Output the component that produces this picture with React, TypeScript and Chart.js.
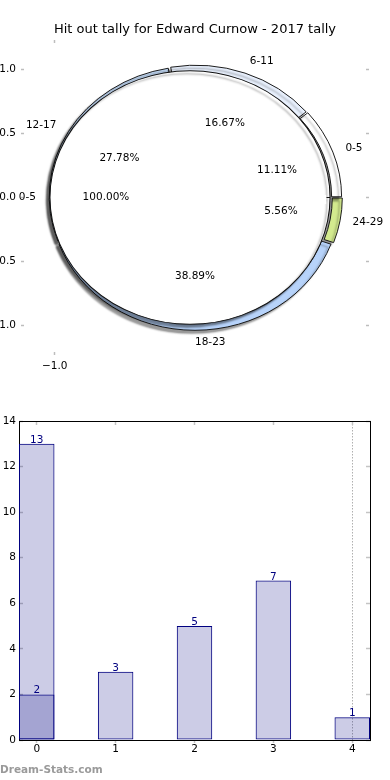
import React, { useEffect, useRef } from 'react';
import { Chart, registerables } from 'chart.js';

Chart.register(...registerables);

// ---------- data ----------
const TITLE = 'Hit out tally for Edward Curnow - 2017 tally';

const ringLabels = ['0-5', '6-11', '12-17', '18-23', '24-29'];
const ringValues = [2, 3, 5, 7, 1];
const ringColors = ['#ffffff', '#e8f0fd', '#c4dbf7', '#b7d3fa', '#d3ea8e'];

const innerLabels = ['0-5'];
const innerValues = [2];
const innerColors = ['#ffffff'];

const pieXTicks = [-1.0];
const pieYTicks = [1.0, 0.5, 0.0, -0.5, -1.0];

const barCategories = [0, 1, 2, 3, 4];
const barValues = [13, 3, 5, 7, 1];
const overlayCategories = [0];
const overlayValues = [2];
const barYTicks = [0, 2, 4, 6, 8, 10, 12, 14];
const markerCategory = 4;

const WATERMARK = 'Dream-Stats.com';

// ---------- style ----------
const FONT = "'DejaVu Sans', sans-serif";
const NAVY = '#000080';
const K = 0.905; // vertical squash of the pie (axes are not equal-aspect)
const INNER_SHIFT = -5;
const INNER_SCALE = 1.045;

Chart.defaults.font.family = FONT;
Chart.defaults.font.size = 10.5;
Chart.defaults.color = '#000';

const fmt1 = (v: number) => (v < 0 ? '\u2212' : '') + Math.abs(v).toFixed(1);

const pieTransform = {
  id: 'pieTransform',
  beforeDatasetDraw(chart: any, args: any) {
    const ctx = chart.ctx;
    ctx.save();
    const el = args.meta.data[0];
    if (!el) return;
    const inner = args.index === 1;
    const s = inner ? INNER_SCALE : 1;
    const cx = el.x + (inner ? INNER_SHIFT : 0);
    if (inner) {
      // hide the closing seam Chart.js strokes on a single 100% slice
      const R = el.outerRadius * s;
      ctx.beginPath();
      ctx.rect(0, 0, chart.width, chart.height);
      ctx.rect(cx - 6, el.y - 2.5, R + 6 - 3.5, 9);
      ctx.clip('evenodd');
    }
    ctx.translate(cx, el.y);
    ctx.scale(s, s * K);
    ctx.translate(-el.x, -el.y);
    ctx.shadowColor = 'rgba(0,0,0,0.4)';
    ctx.shadowOffsetX = -3;
    ctx.shadowOffsetY = 3;
    ctx.shadowBlur = 2;
  },
  afterDatasetDraw(chart: any) {
    chart.ctx.restore();
  },
};

const pieLabels = {
  id: 'pieLabels',
  afterDatasetsDraw(chart: any) {
    const ctx = chart.ctx;
    ctx.save();
    ctx.font = `10.5px ${FONT}`;
    ctx.fillStyle = '#000';
    ctx.textBaseline = 'middle';
    chart.data.datasets.forEach((ds: any, di: number) => {
      const meta = chart.getDatasetMeta(di);
      const inner = di === 1;
      const total = ds.data.reduce((a: number, b: number) => a + b, 0);
      meta.data.forEach((el: any, i: number) => {
        const cx = el.x + (inner ? INNER_SHIFT : 0);
        const cy = el.y;
        const R = inner ? el.outerRadius * INNER_SCALE : el.outerRadius + 1.5;
        const mid = (el.startAngle + el.endAngle) / 2;
        const c = Math.cos(mid);
        const s = Math.sin(mid);
        ctx.textAlign = c >= 0 ? 'left' : 'right';
        ctx.fillText(ds.sliceLabels[i], cx + c * 1.1 * R, cy + s * 1.1 * R * K);
        ctx.textAlign = 'center';
        const pct = ((ds.data[i] / total) * 100).toFixed(2) + '%';
        ctx.fillText(pct, cx + c * 0.6 * R, cy + s * 0.6 * R * K);
      });
    });
    ctx.restore();
  },
};

const barValueLabels = {
  id: 'barValueLabels',
  afterDatasetsDraw(chart: any) {
    const ctx = chart.ctx;
    ctx.save();
    ctx.font = `10.5px ${FONT}`;
    ctx.fillStyle = NAVY;
    ctx.textAlign = 'center';
    ctx.textBaseline = 'alphabetic';
    chart.data.datasets.forEach((ds: any, di: number) => {
      chart.getDatasetMeta(di).data.forEach((el: any, i: number) => {
        ctx.fillText(String(ds.data[i].y), el.x, el.y - 1);
      });
    });
    ctx.restore();
  },
};

function PieChart() {
  const ref = useRef<HTMLCanvasElement>(null);
  useEffect(() => {
    const cw = (a: any[]) => [...a].reverse(); // matplotlib goes counter-clockwise
    const tickGrid = { drawOnChartArea: false, drawTicks: true, tickLength: -3, tickColor: '#bdbdbd', tickWidth: 1.5 };
    const chart = new Chart(ref.current as HTMLCanvasElement, {
      type: 'doughnut',
      data: {
        labels: cw(ringLabels),
        datasets: [
          {
            data: cw(ringValues),
            backgroundColor: cw(ringColors),
            borderColor: '#111',
            borderWidth: 1,
            weight: 10,
            offset: 8,
            order: 1,
            sliceLabels: cw(ringLabels),
          } as any,
          {
            data: innerValues,
            backgroundColor: innerColors,
            borderColor: '#111',
            borderWidth: 1,
            weight: 134,
            order: 0,
            sliceLabels: innerLabels,
          } as any,
        ],
      },
      options: {
        responsive: false,
        animation: false,
        rotation: 90,
        cutout: 0,
        radius: 144,
        layout: { padding: 0, autoPadding: false },
        events: [],
        plugins: {
          legend: { display: false },
          tooltip: { enabled: false },
          title: {
            display: true,
            text: TITLE,
            color: '#000',
            font: { size: 13, weight: 'normal', family: FONT },
            padding: { top: 22, bottom: 0 },
          },
        },
        scales: {
          x: {
            type: 'linear', position: 'bottom', min: -1.24, max: 1.24,
            afterBuildTicks: (s: any) => { s.ticks = pieXTicks.map((v) => ({ value: v })); },
            afterFit: (s: any) => { s.height = 35; },
            ticks: { callback: (v: any) => fmt1(Number(v)), padding: 8, autoSkip: false, maxRotation: 0 },
            grid: tickGrid, border: { display: false },
          },
          xTop: {
            type: 'linear', position: 'top', min: -1.24, max: 1.24,
            afterBuildTicks: (s: any) => { s.ticks = pieXTicks.map((v) => ({ value: v })); },
            afterFit: (s: any) => { s.height = 2.4; },
            ticks: { display: false },
            grid: tickGrid, border: { display: false },
          },
          y: {
            type: 'linear', position: 'left', min: -1.23, max: 1.23,
            afterBuildTicks: (s: any) => { s.ticks = pieYTicks.map((v) => ({ value: v })); },
            afterFit: (s: any) => { s.width = 21; },
            ticks: { callback: (v: any) => fmt1(Number(v)), padding: 8, autoSkip: false },
            grid: tickGrid, border: { display: false },
          },
          yRight: {
            type: 'linear', position: 'right', min: -1.23, max: 1.23,
            afterBuildTicks: (s: any) => { s.ticks = pieYTicks.map((v) => ({ value: v })); },
            afterFit: (s: any) => { s.width = 21; },
            ticks: { display: false },
            grid: tickGrid, border: { display: false },
          },
        },
      } as any,
      plugins: [pieTransform, pieLabels],
    });
    return () => chart.destroy();
  }, []);
  return <canvas ref={ref} width={390} height={390} style={{ display: 'block' }} />;
}

function BarChart() {
  const ref = useRef<HTMLCanvasElement>(null);
  useEffect(() => {
    const mainPts = barCategories.map((x, i) => ({ x, y: barValues[i] }));
    const overlayPts = overlayCategories.map((x, i) => ({ x, y: overlayValues[i] }));
    const common = {
      backgroundColor: 'rgba(0,0,128,0.2)',
      borderColor: NAVY,
      borderWidth: 1,
      borderSkipped: false,
      grouped: false,
      barPercentage: 0.45,
      categoryPercentage: 1,
      xAxisID: 'x',
      yAxisID: 'y',
    };
    const inTicks = { drawOnChartArea: false, drawTicks: true, tickLength: -4, tickColor: '#c4c4c4', tickWidth: 1.5 };
    const frame = { display: true, color: '#000', width: 1 };
    const chart = new Chart(ref.current as HTMLCanvasElement, {
      type: 'bar',
      data: {
        datasets: [
          { ...common, data: overlayPts, order: 0 } as any,
          { ...common, data: mainPts, order: 1 } as any,
        ],
      },
      options: {
        responsive: false,
        animation: false,
        events: [],
        layout: { padding: 0, autoPadding: false },
        plugins: { legend: { display: false }, tooltip: { enabled: false } },
        scales: {
          x: {
            type: 'linear', position: 'bottom', min: -0.225, max: 4.225, offset: false,
            afterBuildTicks: (s: any) => { s.ticks = barCategories.map((v) => ({ value: v })); },
            afterFit: (s: any) => { s.height = 40; },
            ticks: { callback: (v: any) => String(v), padding: 0, autoSkip: false, maxRotation: 0 },
            grid: {
              offset: false,
              drawOnChartArea: true,
              drawTicks: true,
              tickLength: 3,
              tickColor: '#c4c4c4',
              tickWidth: 1.5,
              color: (c: any) => (c.tick && c.tick.value === markerCategory ? '#b0b0b0' : 'rgba(0,0,0,0)'),
            },
            border: { ...frame, dash: [1.5, 1.5] },
          },
          xTop: {
            type: 'linear', position: 'top', min: -0.225, max: 4.225, offset: false,
            afterBuildTicks: (s: any) => { s.ticks = barCategories.map((v) => ({ value: v })); },
            afterFit: (s: any) => { s.height = 31; },
            ticks: { display: false },
            grid: { ...inTicks, offset: false },
            border: frame,
          },
          y: {
            type: 'linear', position: 'left', min: 0, max: 14,
            afterBuildTicks: (s: any) => { s.ticks = barYTicks.map((v) => ({ value: v })); },
            afterFit: (s: any) => { s.width = 19; },
            ticks: { callback: (v: any) => String(v), padding: 7, autoSkip: false },
            grid: inTicks,
            border: frame,
          },
          yRight: {
            type: 'linear', position: 'right', min: 0, max: 14,
            afterBuildTicks: (s: any) => { s.ticks = barYTicks.map((v) => ({ value: v })); },
            afterFit: (s: any) => { s.width = 20; },
            ticks: { display: false },
            grid: inTicks,
            border: frame,
          },
        },
      } as any,
      plugins: [barValueLabels],
    });
    return () => chart.destroy();
  }, []);
  return <canvas ref={ref} width={390} height={390} style={{ display: 'block' }} />;
}

export default function App() {
  return (
    <div style={{ position: 'fixed', left: 0, top: 0, width: 390, height: 780, background: '#fff', overflow: 'hidden' }}>
      <div style={{ position: 'absolute', left: 0, top: 0 }}>
        <PieChart />
      </div>
      <div style={{ position: 'absolute', left: 0, top: 390 }}>
        <BarChart />
      </div>
      <div
        style={{
          position: 'absolute', left: 0, top: 763, fontFamily: FONT, fontWeight: 'bold',
          fontSize: '10.5px', lineHeight: '12px', color: '#9a9a9a', whiteSpace: 'nowrap',
        }}
      >
        {WATERMARK}
      </div>
    </div>
  );
}
